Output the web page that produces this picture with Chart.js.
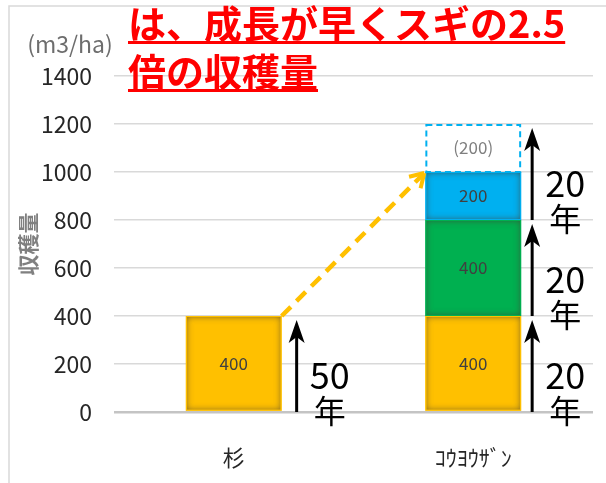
<!DOCTYPE html>
<html>
<head>
<meta charset="utf-8">
<script src="https://cdn.jsdelivr.net/npm/chart.js@4.4.1/dist/chart.umd.min.js"></script>
<style>
    html, body { margin: 0; padding: 0; background: #fff; overflow: hidden; }
    #harvestChart { display: block; }
</style>
</head>
<body>
<canvas id="harvestChart" width="606" height="483"></canvas>
<script>
// harvest volume per stand (m3/ha)
const categories = ['杉', 'ｺｳﾖｳｻﾞﾝ'];
const firstHarvest = [400, 400];
const secondHarvest = [null, 400];
const thirdHarvest = [null, 200];
const projectedHarvest = [null, 200];
const projectedLabels = ['', '(200)'];
const yTickValues = [0, 200, 400, 600, 800, 1000, 1200, 1400];

// growth period arrows: value stops along each bar and years per step
const arrowStops = [[0, 400], [0, 400, 800, 1200]];
const arrowYears = [['50'], ['20', '20', '20']];

const titleLines = ['は、成長が早くスギの2.5', '倍の収穫量'];
const unitLabel = '(m3/ha)';
const axisTitle = '収穫量';

const YELLOW = '#FFC000';
const GREEN = '#00B050';
const BLUE = '#00B0F0';
const JP_FONT = "'Noto Sans CJK JP', 'Noto Sans', sans-serif";

function barRect(el) {
    const p = el.getProps(['x', 'y', 'base', 'width'], true);
    const top = Math.min(p.y, p.base);
    return { left: p.x - p.width / 2, top: top, width: p.width, height: Math.abs(p.base - p.y), cx: p.x };
}

function innerShadow(ctx, r, color) {
    ctx.save();
    ctx.beginPath();
    ctx.rect(r.left + 1, r.top + 1, r.width - 2, r.height - 2);
    ctx.clip();
    ctx.shadowColor = 'rgba(70, 60, 50, 0.8)';
    ctx.shadowBlur = 7;
    ctx.lineWidth = 12;
    ctx.strokeStyle = '#000';
    ctx.strokeRect(r.left - 6, r.top - 6, r.width + 12, r.height + 12);
    ctx.restore();

    ctx.save();
    ctx.lineWidth = 1;
    ctx.strokeStyle = color;
    ctx.strokeRect(r.left + 0.5, r.top + 0.5, r.width - 1, r.height - 1);
    ctx.restore();
}

function drawUpArrow(ctx, x, yBase, yTip) {
    ctx.save();
    ctx.fillStyle = '#000';
    ctx.strokeStyle = '#000';
    ctx.lineWidth = 3;
    ctx.beginPath();
    ctx.moveTo(x, yBase);
    ctx.lineTo(x, yTip + 14);
    ctx.stroke();
    ctx.beginPath();
    ctx.moveTo(x, yTip);
    ctx.lineTo(x - 8, yTip + 23);
    ctx.lineTo(x, yTip + 17);
    ctx.lineTo(x + 8, yTip + 23);
    ctx.closePath();
    ctx.fill();
    ctx.restore();
}

const overlayPlugin = {
    id: 'harvestOverlay',
    beforeDraw(chart) {
        const ctx = chart.ctx;
        ctx.save();
        ctx.fillStyle = '#fff';
        ctx.fillRect(0, 0, chart.width, chart.height);
        // outer frame of the chart object
        ctx.strokeStyle = '#d9d9d9';
        ctx.lineWidth = 1.5;
        ctx.beginPath();
        ctx.moveTo(9, chart.height);
        ctx.lineTo(9, 6);
        ctx.lineTo(chart.width, 6);
        ctx.stroke();
        ctx.restore();
    },
    afterDatasetsDraw(chart) {
        const ctx = chart.ctx;
        const yScale = chart.scales.y;
        const fills = [YELLOW, GREEN, BLUE];

        // shaded edges and value labels on the solid segments
        [0, 1, 2].forEach(di => {
            const meta = chart.getDatasetMeta(di);
            const values = chart.data.datasets[di].data;
            meta.data.forEach((el, i) => {
                if (values[i] == null) return;
                const r = barRect(el);
                innerShadow(ctx, r, fills[di]);
                ctx.save();
                ctx.fillStyle = '#404040';
                ctx.font = '17px ' + JP_FONT;
                ctx.textAlign = 'center';
                ctx.textBaseline = 'middle';
                ctx.fillText(String(values[i]), r.cx, r.top + r.height / 2);
                ctx.restore();
            });
        });

        // projected segment: dashed outline only
        const projMeta = chart.getDatasetMeta(3);
        projMeta.data.forEach((el, i) => {
            if (projectedHarvest[i] == null) return;
            const r = barRect(el);
            ctx.save();
            ctx.setLineDash([6, 4]);
            ctx.lineWidth = 2;
            ctx.strokeStyle = BLUE;
            ctx.strokeRect(r.left + 1, r.top + 1, r.width - 2, r.height - 1);
            ctx.setLineDash([]);
            ctx.fillStyle = '#7f7f7f';
            ctx.font = '17px ' + JP_FONT;
            ctx.textAlign = 'center';
            ctx.textBaseline = 'middle';
            ctx.fillText(projectedLabels[i], r.cx, r.top + r.height / 2);
            ctx.restore();
        });

        // growth period arrows with year labels
        const arrowOffset = [15, 11];
        const baseMeta = chart.getDatasetMeta(0);
        arrowStops.forEach((stops, ci) => {
            const r = barRect(baseMeta.data[ci]);
            const ax = r.left + r.width + arrowOffset[ci];
            for (let j = 0; j < stops.length - 1; j++) {
                const yBase = yScale.getPixelForValue(stops[j]);
                const yTip = yScale.getPixelForValue(stops[j + 1]) + 4;
                drawUpArrow(ctx, ax, yBase, yTip);
                ctx.save();
                ctx.fillStyle = '#000';
                ctx.textAlign = 'center';
                ctx.textBaseline = 'middle';
                ctx.font = '36px ' + JP_FONT;
                ctx.fillText(arrowYears[ci][j], ax + 33, yBase - 37);
                ctx.font = '32px ' + JP_FONT;
                ctx.fillText('年', ax + 33, yBase - 1);
                ctx.restore();
            }
        });

        // dashed link from the sugi bar top to the matching height on the other stand
        const sugi = barRect(baseMeta.data[0]);
        const koyo = barRect(baseMeta.data[1]);
        const x0 = sugi.left + sugi.width;
        const y0 = yScale.getPixelForValue(firstHarvest[0]);
        const x1 = koyo.left;
        const y1 = yScale.getPixelForValue(firstHarvest[1] + secondHarvest[1] + thirdHarvest[1]);
        const ang = Math.atan2(y1 - y0, x1 - x0);
        ctx.save();
        ctx.strokeStyle = YELLOW;
        ctx.lineWidth = 4.5;
        ctx.setLineDash([13, 8]);
        ctx.beginPath();
        ctx.moveTo(x0, y0);
        ctx.lineTo(x1 - 3 * Math.cos(ang), y1 - 3 * Math.sin(ang));
        ctx.stroke();
        ctx.setLineDash([]);
        ctx.lineWidth = 4;
        ctx.beginPath();
        [-0.5, 0.5].forEach(d => {
            ctx.moveTo(x1 - 1.5 * Math.cos(ang), y1 - 1.5 * Math.sin(ang));
            ctx.lineTo(x1 - 17 * Math.cos(ang + d), y1 - 17 * Math.sin(ang + d));
        });
        ctx.stroke();
        ctx.restore();
    },
    afterDraw(chart) {
        const ctx = chart.ctx;
        ctx.save();
        // unit above the value axis
        ctx.fillStyle = '#6d6d6d';
        ctx.font = '23px ' + JP_FONT;
        ctx.textAlign = 'center';
        ctx.textBaseline = 'middle';
        ctx.fillText(unitLabel, 70, 44);

        // headline
        ctx.fillStyle = '#FF0000';
        ctx.font = 'bold 38px ' + JP_FONT;
        ctx.textAlign = 'left';
        ctx.textBaseline = 'middle';
        const lineY = [24, 72];
        titleLines.forEach((line, i) => {
            ctx.fillText(line, 128, lineY[i]);
            const w = ctx.measureText(line).width;
            ctx.fillRect(128, lineY[i] + 17, w, 3);
        });
        ctx.restore();
    }
};

new Chart(document.getElementById('harvestChart'), {
    type: 'bar',
    data: {
        labels: categories,
        datasets: [
            { data: firstHarvest, backgroundColor: YELLOW, borderWidth: 0 },
            { data: secondHarvest, backgroundColor: GREEN, borderWidth: 0 },
            { data: thirdHarvest, backgroundColor: BLUE, borderWidth: 0 },
            { data: projectedHarvest, backgroundColor: 'rgba(0,0,0,0)', borderWidth: 0 }
        ]
    },
    options: {
        responsive: false,
        devicePixelRatio: 1,
        animation: false,
        layout: { padding: { top: 76, right: 13, bottom: 0, left: 0 } },
        datasets: { bar: { categoryPercentage: 1, barPercentage: 0.4 } },
        plugins: {
            legend: { display: false },
            tooltip: { enabled: false }
        },
        scales: {
            x: {
                stacked: true,
                grid: { display: false },
                border: { display: false },
                ticks: { color: '#262626', padding: 24, font: { family: JP_FONT, size: 22 } },
                afterFit(scale) { scale.height = 71; }
            },
            y: {
                stacked: true,
                min: 0,
                max: 1400,
                afterBuildTicks(scale) { scale.ticks = yTickValues.map(v => ({ value: v })); },
                grid: {
                    drawTicks: false,
                    color: ctx => ctx.tick && ctx.tick.value === 0 ? '#c4c4c4' : '#d9d9d9',
                    lineWidth: ctx => ctx.tick && ctx.tick.value === 0 ? 2.5 : 1.5
                },
                border: { display: false },
                ticks: {
                    color: '#262626',
                    padding: 22,
                    font: { family: JP_FONT, size: 23 },
                    callback: v => String(v)
                },
                title: {
                    display: true,
                    text: axisTitle,
                    color: '#808080',
                    padding: { top: 15, bottom: 0 },
                    font: { family: JP_FONT, size: 21, weight: 'bold' }
                },
                afterFit(scale) { scale.width = 114; }
            }
        }
    },
    plugins: [overlayPlugin]
});
</script>
</body>
</html>
